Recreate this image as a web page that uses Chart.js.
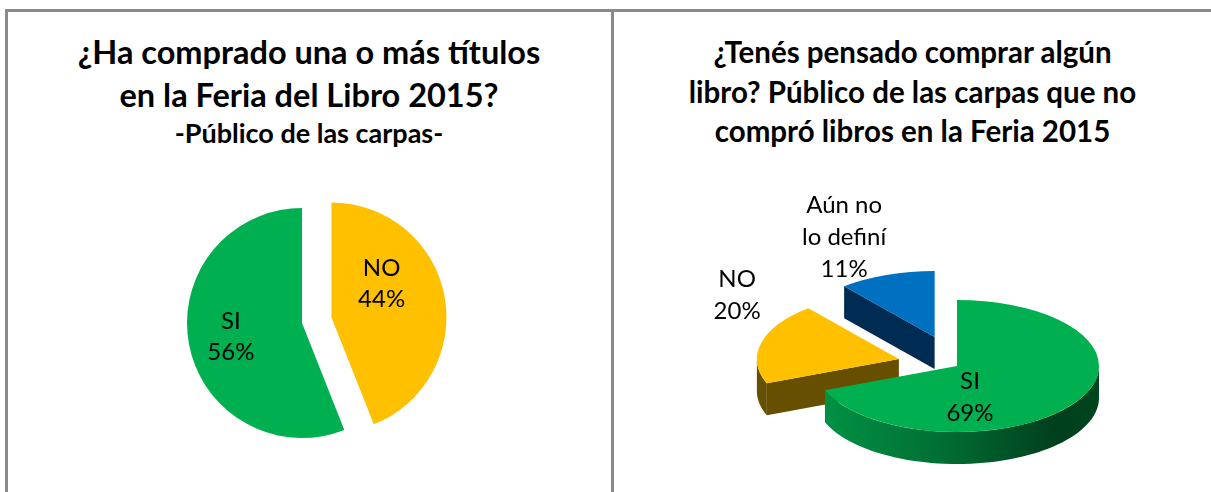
<!DOCTYPE html>
<html><head><meta charset="utf-8">
<script src="https://cdn.jsdelivr.net/npm/chart.js@4/dist/chart.umd.min.js"></script>
<style>
html,body{margin:0;padding:0;background:#fff;width:1211px;height:492px;overflow:hidden;position:relative;font-family:Lato,"Open Sans",sans-serif}
.frame{position:absolute;border:3px solid #8a8a8a;border-bottom:none;box-sizing:border-box}
#f1{left:5px;top:9px;width:609px;height:490px}
#f2{left:611px;top:9px;width:620px;height:490px;border-right:none}
.title{position:absolute;text-align:center;font-weight:700;color:#000;white-space:nowrap}
canvas{position:absolute}
</style></head><body>
<div class="frame" id="f1"></div>
<div class="frame" id="f2"></div>
<div class="title" style="left:6px;width:606px;top:30px;font-size:32.5px;line-height:43px">¿Ha comprado una o más títulos<br>en la Feria del Libro 2015?</div>
<div class="title" style="left:6px;width:606px;top:118px;font-size:27px;line-height:30px">-Público de las carpas-</div>
<div class="title" style="left:614px;width:597px;top:32px;font-size:29.5px;line-height:39.5px">¿Tenés pensado comprar algún<br>libro? Público de las carpas que no<br>compró libros en la Feria 2015</div>
<canvas id="c1" width="606" height="492" style="left:6px;top:0"></canvas>
<canvas id="c2" width="597" height="492" style="left:614px;top:0"></canvas>
<script>
// ---- data ----
const leftCategories = ['NO', 'SI'];
const leftValues = [44, 56];
const rightCategories = ['SI', 'NO', ['Aún no', 'lo definí']];
const rightValues = [69, 20, 11];

// ---- plugin: explode, 3D walls, squash, labels ----
const pieExtras = {
  id: 'pieExtras',
  beforeDatasetsDraw(chart, args, opts) {
    const arcs = chart.getDatasetMeta(0).data;
    const ctx = chart.ctx;
    const k = opts.squash || 1;
    const depth = opts.depth || 0;
    const cy0 = arcs[0].y;
    chart.$cy0 = cy0;
    chart.$base = arcs.map(a => ({x: a.x, y: a.y}));
    arcs.forEach((a, i) => {
      const e = (opts.explode || [])[i] || 0;
      const mid = (a.startAngle + a.endAngle) / 2;
      a.x += Math.cos(mid) * e; a.y += Math.sin(mid) * e;
    });
    ctx.save();
    if (depth > 0) {
      const P = (a, th, r, dz) => [a.x + r * Math.cos(th), cy0 + (a.y - cy0 + r * Math.sin(th)) * k + dz];
      const order = arcs.map((a, i) => i).sort((i, j) => arcs[i].y - arcs[j].y);
      for (const i of order) {
        const a = arcs[i], R = a.outerRadius, s = a.startAngle, e = a.endAngle;
        const sc = opts.sideColors[i];
        let fill = sc;
        if (Array.isArray(sc)) {
          const g = ctx.createLinearGradient(a.x - R, 0, a.x + R, 0);
          sc.forEach(st => g.addColorStop(st[0], st[1]));
          fill = g;
        }
        ctx.fillStyle = fill;
        const quad = th => {
          const p1 = P(a, th, 0, 0), p2 = P(a, th, R, 0), p3 = P(a, th, R, depth), p4 = P(a, th, 0, depth);
          ctx.beginPath(); ctx.moveTo(...p1); ctx.lineTo(...p2); ctx.lineTo(...p3); ctx.lineTo(...p4); ctx.closePath(); ctx.fill();
        };
        if (Math.cos(s) < -1e-6) quad(s);
        if (Math.cos(e) > 1e-6) quad(e);
        for (const base of [0, 2 * Math.PI, -2 * Math.PI]) {
          const t1 = Math.max(s, base), t2 = Math.min(e, base + Math.PI);
          if (t2 > t1) {
            const n = 60;
            ctx.beginPath();
            for (let j = 0; j <= n; j++) { const p = P(a, t1 + (t2 - t1) * j / n, R, 0); j ? ctx.lineTo(...p) : ctx.moveTo(...p); }
            for (let j = n; j >= 0; j--) { ctx.lineTo(...P(a, t1 + (t2 - t1) * j / n, R, depth)); }
            ctx.closePath(); ctx.fill();
          }
        }
      }
    }
    ctx.translate(0, cy0); ctx.scale(1, k); ctx.translate(0, -cy0);
  },
  afterDatasetsDraw(chart, args, opts) {
    const ctx = chart.ctx;
    ctx.restore();
    const arcs = chart.getDatasetMeta(0).data;
    const k = opts.squash || 1, cy0 = chart.$cy0;
    const vals = chart.data.datasets[0].data;
    const total = vals.reduce((p, c) => p + c, 0);
    const L = opts.labels;
    ctx.save();
    ctx.fillStyle = '#000';
    ctx.font = L.font;
    ctx.textAlign = 'center';
    ctx.textBaseline = 'middle';
    arcs.forEach((a, i) => {
      const mid = (a.startAngle + a.endAngle) / 2;
      const [f, dx, dy] = L.place[i];
      const ux = a.x + Math.cos(mid) * f * a.outerRadius;
      const uy = a.y + Math.sin(mid) * f * a.outerRadius;
      const sx = ux + dx, sy = cy0 + (uy - cy0) * k + dy;
      const lines = [].concat(chart.data.labels[i], Math.round(vals[i] / total * 100) + '%');
      const h = L.lineHeight;
      lines.forEach((t, j) => ctx.fillText(t, sx, sy + (j - (lines.length - 1) / 2) * h));
    });
    ctx.restore();
    arcs.forEach((a, i) => { a.x = chart.$base[i].x; a.y = chart.$base[i].y; });
  }
};

new Chart(document.getElementById('c1'), {
  type: 'pie',
  data: {
    labels: leftCategories,
    datasets: [{ data: leftValues, backgroundColor: ['#FFC000', '#00B050'], borderWidth: 0, radius: 115, clip: false }]
  },
  options: {
    responsive: false, animation: false, events: [],
    radius: 115,
    layout: { padding: { left: 0, right: 14, top: 154, bottom: 0 } },
    plugins: {
      legend: { display: false }, tooltip: { enabled: false },
      pieExtras: {
        explode: [30, 0], squash: 1, depth: 0,
        labels: { font: '24px Lato', lineHeight: 31, place: [[0.63, -21, -20], [0.63, 0, 0]] }
      }
    }
  },
  plugins: [pieExtras]
});

new Chart(document.getElementById('c2'), {
  type: 'pie',
  data: {
    labels: rightCategories,
    datasets: [{ data: rightValues, backgroundColor: ['#00B050', '#FFC000', '#0070C0'], borderWidth: 0, radius: 142, clip: false }]
  },
  options: {
    responsive: false, animation: false, events: [],
    radius: 142,
    layout: { padding: { left: 89, right: 0, top: 240, bottom: 0 } },
    plugins: {
      legend: { display: false }, tooltip: { enabled: false },
      pieExtras: {
        explode: [0, 60, 66], squash: 0.465, depth: 32,
        sideColors: [[[0, '#009445'], [0.45, '#006E33'], [0.85, '#003F1D'], [1, '#00451F']], '#665000', '#002B52'],
        labels: { font: '24px Lato', lineHeight: 32, place: [[0.63, -61, 8], [1.3, 17, -42], [1.3, -28, -19]] }
      }
    }
  },
  plugins: [pieExtras]
});
</script>
</body></html>
